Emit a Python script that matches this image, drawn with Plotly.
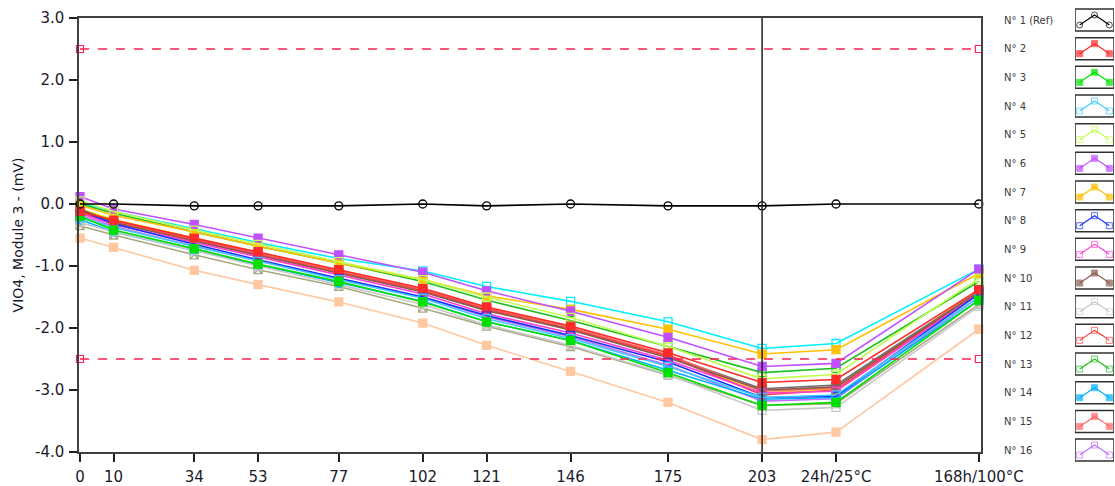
import plotly.graph_objects as go

# Measurement steps (hours) and their axis labels
steps = [0, 10, 34, 53, 77, 102, 121, 146, 175, 203, 225, 267.5]
step_labels = ["0", "10", "34", "53", "77", "102", "121", "146", "175", "203",
               "24h/25°C", "168h/100°C"]

# Offset drift per sample (mV)
s01 = [0.0, 0.0, -0.03, -0.03, -0.03, 0.0, -0.03, 0.0, -0.03, -0.03, 0.0, 0.0]
s02 = [-0.12, -0.26, -0.55, -0.77, -1.06, -1.36, -1.66, -1.97, -2.40, -2.88, -2.83, -1.38]
s03 = [-0.20, -0.42, -0.72, -0.97, -1.25, -1.58, -1.90, -2.20, -2.72, -3.25, -3.20, -1.55]
s04 = [-0.22, -0.38, -0.68, -0.92, -1.22, -1.52, -1.85, -2.17, -2.62, -3.12, -3.08, -1.50]
s05 = [0.05, -0.12, -0.42, -0.65, -0.93, -1.22, -1.50, -1.83, -2.30, -2.82, -2.75, -1.20]
s06 = [0.12, -0.08, -0.33, -0.55, -0.82, -1.10, -1.40, -1.73, -2.15, -2.62, -2.57, -1.05]
s07 = [-0.02, -0.18, -0.45, -0.68, -0.95, -1.22, -1.48, -1.70, -2.02, -2.42, -2.35, -1.12]
s08 = [-0.10, -0.32, -0.65, -0.90, -1.20, -1.50, -1.80, -2.12, -2.55, -3.12, -3.10, -1.45]
s09 = [-0.15, -0.33, -0.62, -0.85, -1.14, -1.45, -1.77, -2.08, -2.52, -3.05, -3.02, -1.45]
s10 = [-0.08, -0.30, -0.60, -0.83, -1.12, -1.42, -1.72, -2.03, -2.48, -3.00, -2.95, -1.42]
s11 = [-0.30, -0.45, -0.75, -1.00, -1.30, -1.62, -1.95, -2.28, -2.75, -3.33, -3.28, -1.65]
s12 = [-0.15, -0.30, -0.58, -0.82, -1.10, -1.40, -1.70, -2.02, -2.45, -3.08, -3.00, -1.42]
s13 = [0.00, -0.15, -0.45, -0.68, -0.95, -1.25, -1.55, -1.88, -2.30, -2.72, -2.65, -1.25]
s14 = [-0.25, -0.45, -0.75, -0.98, -1.27, -1.57, -1.90, -2.20, -2.68, -3.15, -3.12, -1.55]
s15 = [-0.12, -0.28, -0.57, -0.80, -1.08, -1.38, -1.68, -2.00, -2.43, -3.02, -2.97, -1.40]
s16 = [-0.18, -0.36, -0.68, -0.92, -1.20, -1.50, -1.82, -2.14, -2.60, -3.18, -3.14, -1.50]
s17 = [0.02, -0.12, -0.40, -0.62, -0.88, -1.08, -1.33, -1.57, -1.90, -2.33, -2.25, -1.05]
s18 = [-0.55, -0.70, -1.07, -1.30, -1.58, -1.92, -2.28, -2.70, -3.20, -3.80, -3.68, -2.02]
s19 = [-0.35, -0.50, -0.82, -1.06, -1.33, -1.68, -1.97, -2.30, -2.76, -3.25, -3.22, -1.62]
s20 = [-0.10, -0.28, -0.58, -0.80, -1.10, -1.40, -1.70, -2.00, -2.45, -2.98, -2.92, -1.40]
s21 = [-0.08, -0.25, -0.55, -0.78, -1.07, -1.38, -1.68, -2.00, -2.45, -3.05, -2.98, -1.38]

names = ["N° 1 (Ref)", "N° 2", "N° 3", "N° 4", "N° 5", "N° 6", "N° 7", "N° 8",
         "N° 9", "N° 10", "N° 11", "N° 12", "N° 13", "N° 14", "N° 15", "N° 16",
         "N° 17", "N° 18", "N° 19", "N° 20", "N° 21"]
series = [s01, s02, s03, s04, s05, s06, s07, s08, s09, s10, s11, s12, s13, s14,
          s15, s16, s17, s18, s19, s20, s21]

# Limits (mV)
upper_limit = 2.5
lower_limit = -2.5
marker_step = 203

colors = ["#000000", "#ff2a2a", "#00e000", "#40c8ff", "#c0ff50", "#c050ff",
          "#ffc000", "#1830ff", "#ff40d0", "#8c5a50", "#c8c8c8", "#ff4040",
          "#20c020", "#00b0ff", "#ff6464", "#c070ff", "#00f0ff", "#ffc8a0",
          "#a8a880", "#707070", "#f0f000"]
symbols = ["circle-open", "square", "square", "square-open", "square-open",
           "square", "square", "square-open", "square-open", "square",
           "square-open", "square-open", "square-open", "square", "square",
           "square-open", "square-open", "square", "square-x-open",
           "square-open", "square-open"]
n_legend = 16

fig = go.Figure()

# Draw order: lower-priority series first so the labelled ones sit on top
order = list(range(len(series)))[::-1]
for i in order:
    fig.add_trace(go.Scatter(
        x=steps, y=series[i], name=names[i], mode="lines+markers",
        line=dict(color=colors[i], width=1.6),
        marker=dict(symbol=symbols[i], size=8, color=colors[i],
                    line=dict(color=colors[i], width=1.3)),
        cliponaxis=False, showlegend=False, xaxis="x", yaxis="y"))

for lim in (upper_limit, lower_limit):
    fig.add_trace(go.Scatter(
        x=[steps[0], steps[-1]], y=[lim, lim], mode="lines+markers",
        line=dict(color="#ff2050", width=1.5, dash="dash"),
        marker=dict(symbol="square-open", size=7, color="#ff2050",
                    line=dict(width=1.2)),
        cliponaxis=False, showlegend=False))

# Vertical cursor
fig.add_shape(type="line", xref="x", yref="y", x0=marker_step, x1=marker_step,
              y0=-4, y1=3, line=dict(color="#202020", width=1.5))

# Page geometry in pixels; margins are zero and every area is set by domain
W, H = 1115, 486
plot_l, plot_r, plot_t, plot_b = 79, 980.5, 18, 452

# Side legend: labels on the left, boxed icons on the right
row_y = [20 + 28.67 * k for k in range(n_legend)]
icon_x = [0.12, 0.3, 0.5, 0.7, 0.88]
icon_dy = [5, 0, -5, 0, 5]
icon_sz = [6, 0, 6, 0, 6]
for k in range(n_legend):
    cy = row_y[k]
    fig.add_annotation(xref="paper", yref="y2", x=1002 / W, y=cy,
                       text=names[k], showarrow=False, xanchor="left",
                       font=dict(size=10, color="#3a3a3a",
                                 family="DejaVu Sans"))
    fig.add_shape(type="rect", xref="x2", yref="y2", x0=0, x1=1,
                  y0=cy - 11, y1=cy + 11,
                  line=dict(color="#303030", width=1.5), fillcolor="white",
                  layer="below")
    fig.add_trace(go.Scatter(
        x=icon_x, y=[cy + d for d in icon_dy], mode="lines+markers",
        line=dict(color=colors[k], width=1.2),
        marker=dict(symbol=symbols[k], size=icon_sz, color=colors[k],
                    line=dict(color=colors[k], width=1)),
        showlegend=False, xaxis="x2", yaxis="y2", hoverinfo="skip"))

tick_font = dict(family="DejaVu Sans", size=15, color="#1a1a2a")
fig.update_layout(
    width=W, height=H,
    margin=dict(l=0, r=0, t=0, b=0, autoexpand=False),
    paper_bgcolor="white", plot_bgcolor="white",
    showlegend=False,
    xaxis=dict(domain=[plot_l / W, plot_r / W], range=[-0.3, 268],
               tickmode="array", tickvals=steps, ticktext=step_labels,
               ticks="outside", ticklen=8, tickwidth=1.5, tickcolor="#202020",
               tickfont=tick_font, ticklabelstandoff=2, automargin=False,
               showline=True, linecolor="#404040", linewidth=1.5, mirror=True,
               showgrid=False, zeroline=False, fixedrange=True),
    yaxis=dict(domain=[1 - plot_b / H, 1 - plot_t / H], range=[-4, 3],
               tickmode="array",
               tickvals=[3, 2, 1, 0, -1, -2, -3, -4],
               ticktext=["3.0", "2.0", "1.0", "0.0", "-1.0", "-2.0", "-3.0", "-4.0"],
               ticks="outside", ticklen=8, tickwidth=1.5, tickcolor="#202020",
               tickfont=tick_font, ticklabelstandoff=2, automargin=False,
               showline=True, linecolor="#404040", linewidth=1.5, mirror=True,
               showgrid=False, zeroline=False,
               title=dict(text="VIO4, Module 3 - (mV)", standoff=8,
                          font=dict(family="DejaVu Sans", size=14, color="#1a1a2a"))),
    xaxis2=dict(domain=[1075 / W, 1114 / W], range=[0, 1],
                visible=False, fixedrange=True, automargin=False),
    yaxis2=dict(domain=[0, 1], range=[H, 0], anchor="x2",
                visible=False, fixedrange=True, automargin=False),
)

fig.write_html("out.html")
